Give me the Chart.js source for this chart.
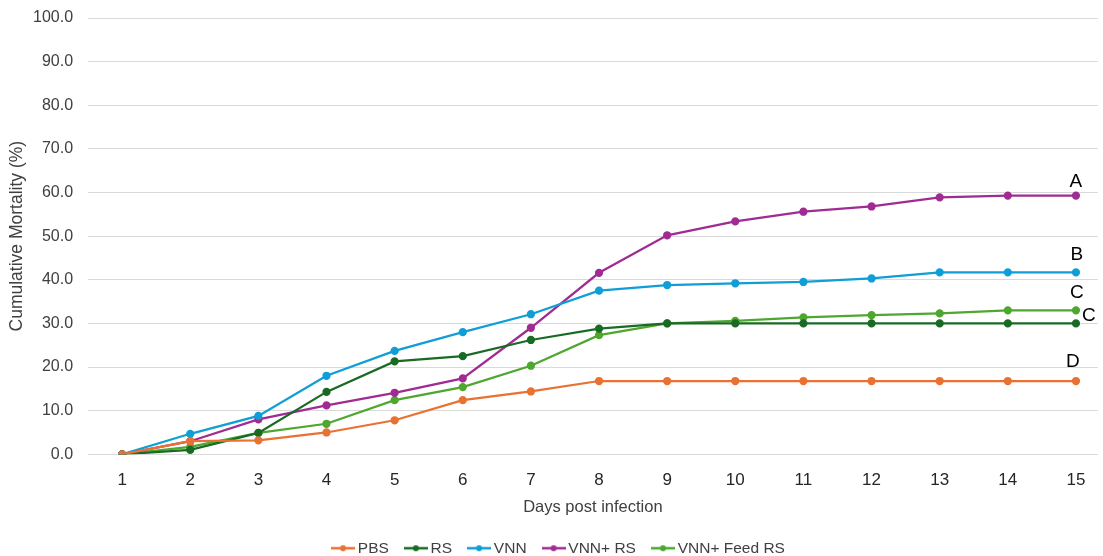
<!DOCTYPE html>
<html>
<head>
<meta charset="utf-8">
<script src="https://cdn.jsdelivr.net/npm/chart.js@4"></script>
<style>
  html, body { margin: 0; padding: 0; background: #fff; }
  #wrap { width: 1103px; height: 556px; }
</style>
</head>
<body>
<div id="wrap"><canvas id="mortalityChart"></canvas></div>
<script>
// data
const days = [1, 2, 3, 4, 5, 6, 7, 8, 9, 10, 11, 12, 13, 14, 15];
const pbs = [0, 3.0, 3.2, 5.0, 7.8, 12.4, 14.4, 16.8, 16.8, 16.8, 16.8, 16.8, 16.8, 16.8, 16.8];
const rs = [0, 1.0, 4.9, 14.3, 21.3, 22.5, 26.2, 28.8, 30.0, 30.0, 30.0, 30.0, 30.0, 30.0, 30.0];
const vnn = [0, 4.7, 8.8, 18.0, 23.7, 28.0, 32.1, 37.5, 38.8, 39.2, 39.5, 40.3, 41.7, 41.7, 41.7];
const vnnRs = [0, 3.0, 8.0, 11.2, 14.1, 17.4, 29.0, 41.6, 50.2, 53.4, 55.6, 56.8, 58.9, 59.3, 59.3];
const vnnFeedRs = [0, 1.7, 4.9, 7.0, 12.4, 15.4, 20.3, 27.3, 30.0, 30.6, 31.4, 31.9, 32.3, 33.0, 33.0];
const yTicks = [0, 10, 20, 30, 40, 50, 60, 70, 80, 90, 100];

// significance letters at the end of each line
const letters = { 'PBS': 'D', 'RS': 'C', 'VNN': 'B', 'VNN+ RS': 'A', 'VNN+ Feed RS': 'C' };

const series = [
  { label: 'PBS', values: pbs, color: '#E97132' },
  { label: 'RS', values: rs, color: '#196B24' },
  { label: 'VNN', values: vnn, color: '#0F9ED5' },
  { label: 'VNN+ RS', values: vnnRs, color: '#A02B93' },
  { label: 'VNN+ Feed RS', values: vnnFeedRs, color: '#4EA72E' }
];

const FONT = '"Liberation Sans", Arial, sans-serif';
Chart.defaults.font.family = FONT;
Chart.defaults.color = '#404040';

// legend marker: short line with a dot in the middle
function legendMarker(color) {
  const c = document.createElement('canvas');
  c.width = 24; c.height = 10;
  const g = c.getContext('2d');
  g.strokeStyle = color; g.lineWidth = 2.5;
  g.beginPath(); g.moveTo(0, 5); g.lineTo(24, 5); g.stroke();
  g.fillStyle = color;
  g.beginPath(); g.arc(12, 5, 3, 0, Math.PI * 2); g.fill();
  return c;
}

const letterPlugin = {
  id: 'letters',
  afterDatasetsDraw(chart) {
    const ctx = chart.ctx;
    const x = chart.scales.x, y = chart.scales.y;
    ctx.save();
    ctx.font = '19px ' + FONT;
    ctx.fillStyle = '#000';
    ctx.textAlign = 'center';
    ctx.textBaseline = 'middle';
    chart.data.datasets.forEach(ds => {
      const last = ds.data[ds.data.length - 1];
      let px = x.getPixelForValue(last.x);
      let py = y.getPixelForValue(last.y);
      if (ds.label === 'RS') { px += 13; py -= 8; }
      else if (ds.label === 'VNN+ RS') { py -= 14; }
      else if (ds.label === 'PBS') { px -= 3; py -= 19; }
      else { px += 1; py -= 18; }
      ctx.fillText(letters[ds.label], px, py);
    });
    ctx.restore();
  }
};

new Chart(document.getElementById('mortalityChart'), {
  type: 'line',
  data: {
    datasets: series.map(s => ({
      label: s.label,
      data: days.map((d, i) => ({ x: d, y: s.values[i] })),
      borderColor: s.color,
      backgroundColor: s.color,
      borderWidth: 2.25,
      pointRadius: 3,
      pointHoverRadius: 3,
      tension: 0
    }))
  },
  options: {
    responsive: true,
    maintainAspectRatio: false,
    animation: false,
    layout: { padding: { top: 8, left: 18, right: 0, bottom: -10 } },
    scales: {
      x: {
        type: 'linear',
        min: 0.5,
        max: 15.32,
        afterBuildTicks: axis => { axis.ticks = days.map(v => ({ value: v })); },
        grid: { display: false },
        border: { display: false },
        ticks: { font: { size: 17 }, color: '#262626', padding: 8, autoSkip: false, maxRotation: 0 },
        title: { display: true, text: 'Days post infection', font: { size: 16.5 }, color: '#404040', padding: { top: -1, bottom: 3 } }
      },
      y: {
        min: 0,
        max: 100,
        afterBuildTicks: axis => { axis.ticks = yTicks.map(v => ({ value: v })); },
        grid: { color: '#d9d9d9', lineWidth: 1, drawTicks: true, tickLength: 6.6, tickColor: 'rgba(0,0,0,0)' },
        border: { display: false },
        ticks: { font: { size: 16 }, color: '#404040', padding: 8.4, callback: v => v.toFixed(1) },
        title: { display: true, text: 'Cumulative Mortality (%)', font: { size: 17.5 }, color: '#404040', padding: { top: -11, bottom: -3.4 } }
      }
    },
    plugins: {
      tooltip: { enabled: false },
      legend: {
        position: 'bottom',
        labels: {
          usePointStyle: true,
          pointStyleWidth: 14,
          boxHeight: 10,
          padding: 20,
          font: { size: 15.5 },
          color: '#404040',
          generateLabels: chart => chart.data.datasets.map((ds, i) => ({
            text: ds.label,
            pointStyle: legendMarker(ds.borderColor),
            fillStyle: ds.borderColor,
            strokeStyle: ds.borderColor,
            lineWidth: 0,
            datasetIndex: i,
            fontColor: '#404040'
          }))
        }
      }
    }
  },
  plugins: [letterPlugin]
});
</script>
</body>
</html>
